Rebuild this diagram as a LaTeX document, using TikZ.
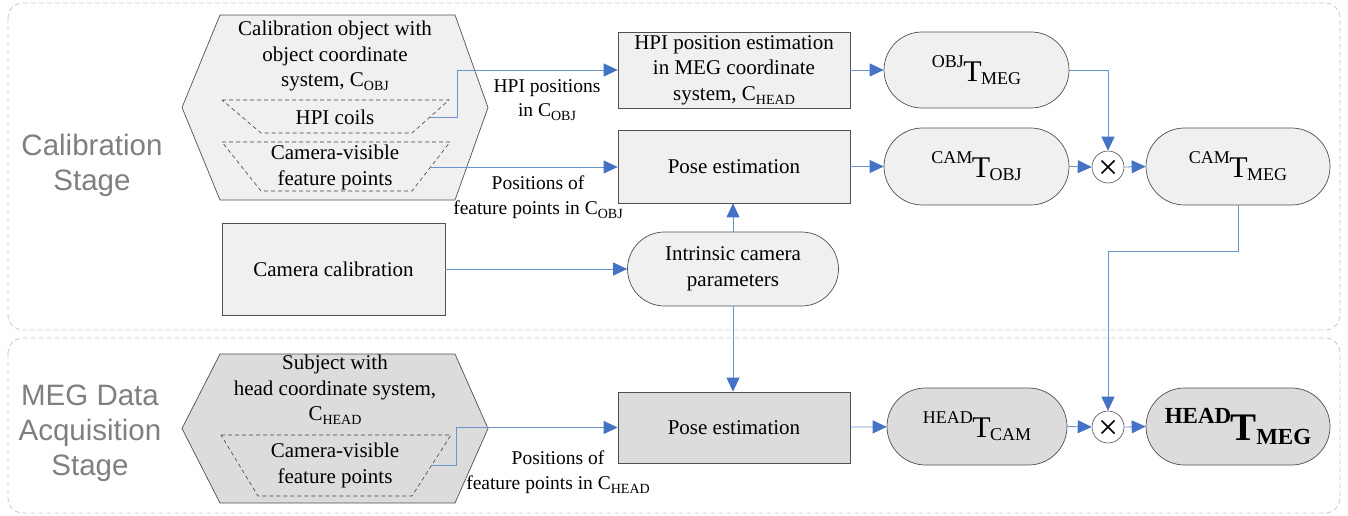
\documentclass[tikz,border=0pt]{standalone}
\usepackage{fontspec}
\setmainfont{Liberation Serif}
\newfontfamily\stagefont{Liberation Sans}
\usetikzlibrary{arrows.meta,shapes.misc,calc}
\definecolor{tipblue}{HTML}{4472C4}
\definecolor{lineblue}{HTML}{6A94CE}
\definecolor{boxline}{HTML}{505050}
\definecolor{filltop}{HTML}{F0F0F0}
\definecolor{fillbot}{HTML}{DCDCDC}
\definecolor{stagegray}{HTML}{7F7F7F}
\definecolor{framegray}{HTML}{C8C8C8}
\newcommand\mysub[1]{\raisebox{-4pt}{\fontsize{14}{14}\selectfont #1}}
\newcommand\tfm[2]{\raisebox{14pt}{\fontsize{18}{18}\selectfont #1}\kern-0.5pt{\fontsize{30}{30}\selectfont T}\kern-0.5pt\raisebox{-3pt}{\fontsize{18}{18}\selectfont #2}}
\newcommand\tfmb[2]{\textbf{\raisebox{17pt}{\fontsize{23}{23}\selectfont #1}\kern-0.5pt{\fontsize{39}{39}\selectfont T}\kern-0.5pt\raisebox{-4pt}{\fontsize{23}{23}\selectfont #2}}}
\tikzset{
  txt/.style={inner sep=0pt, align=center, font=\fontsize{21}{25.5}\selectfont},
  lbltxt/.style={inner sep=0pt, align=center, font=\fontsize{19.5}{24.5}\selectfont},
  stagetxt/.style={inner sep=0pt, align=center, text=stagegray, font=\stagefont\fontsize{29.5}{35}\selectfont},
  box/.style={draw=boxline, line width=0.7pt, fill=#1, rectangle, inner sep=0pt, align=center, font=\fontsize{21}{25.5}\selectfont},
  pill/.style={draw=boxline, line width=0.7pt, fill=#1, rounded rectangle, inner sep=0pt, align=center, font=\fontsize{21}{25.5}\selectfont},
  hexa/.style={draw=boxline, line width=0.7pt, fill=#1},
  trap/.style={draw=black!75, line width=0.6pt, dash pattern=on 4pt off 3pt},
  frame/.style={draw=framegray, line width=0.8pt, dash pattern=on 5pt off 3pt, rounded corners=15pt},
  conn/.style={draw=lineblue, line width=0.8pt, -{Triangle[length=14pt,width=13pt,color=tipblue]}},
  mult/.style={circle, draw=boxline, line width=0.6pt, fill=white, minimum size=32pt, inner sep=0pt,
    path picture={\draw[black, line width=1.7pt] ($(path picture bounding box.center)+(-6.5pt,-6.5pt)$) -- ($(path picture bounding box.center)+(6.5pt,6.5pt)$)
      ($(path picture bounding box.center)+(-6.5pt,6.5pt)$) -- ($(path picture bounding box.center)+(6.5pt,-6.5pt)$);}}
}
\begin{document}
\begin{tikzpicture}[x=1pt, y=-1pt]
\useasboundingbox (0,0) rectangle (1348,516);
% stage frames
\draw[frame] (8,3) rectangle (1340,330);
\draw[frame] (8,338) rectangle (1340,513);
\node[stagetxt] (stage1) at (92,165) {Calibration\\Stage};
\node[stagetxt] (stage2) at (90,433) {MEG Data\\Acquisition\\Stage};

% top hexagon
\draw[hexa=filltop] (182,107.5) -- (220,15) -- (455,15) -- (488,107.5) -- (455,200) -- (220,200) -- cycle;
\draw[trap] (222,100) -- (449,100) -- (412,133) -- (261,133) -- cycle;
\draw[trap] (222,142) -- (450,142) -- (412,191) -- (261,191) -- cycle;
\node[txt] (calobj) at (335,56) {Calibration object with\\object coordinate\\system, C\mysub{OBJ}};
\node[txt] (hpicoils) at (335,117) {HPI coils};
\node[txt] (feat1) at (335,167.5) {Camera-visible\\feature points};
\coordinate (c1) at (430,117);
\coordinate (c2) at (430.6,167);

% bottom hexagon
\draw[hexa=fillbot] (182,428.5) -- (220,354) -- (455,354) -- (488,428.5) -- (455,503) -- (220,503) -- cycle;
\draw[trap] (221,435) -- (451,435) -- (412,496) -- (258,496) -- cycle;
\node[txt] (subj) at (335,390) {Subject with\\head coordinate system,\\C\mysub{HEAD}};
\node[txt] (feat2) at (335,465.5) {Camera-visible\\feature points};
\coordinate (c3) at (431.8,465);

% process boxes
\node[box=filltop, minimum width=232pt, minimum height=76pt] (hpi) at (734,70) {HPI position estimation\\in MEG coordinate\\system, C\mysub{HEAD}};
\node[box=filltop, minimum width=232pt, minimum height=73pt] (pose1) at (734,166.5) {Pose estimation};
\node[box=filltop, minimum width=223pt, minimum height=92pt] (camcal) at (333.5,269) {Camera calibration};
\node[pill=filltop, minimum width=211pt, minimum height=74pt] (intr) at (733,269) {Intrinsic camera\\parameters};
\node[box=fillbot, minimum width=232pt, minimum height=71pt] (pose2) at (734,427.5) {Pose estimation};

% transforms
\node[pill=filltop, minimum width=185pt, minimum height=76pt] (objT) at (976.5,70) {\tfm{OBJ}{MEG}};
\node[pill=filltop, minimum width=185pt, minimum height=77pt] (camTobj) at (976.5,166.5) {\tfm{CAM}{OBJ}};
\node[mult] (ot1) at (1108,167) {};
\node[pill=filltop, minimum width=184pt, minimum height=77pt] (camTmeg) at (1238,166.5) {\tfm{CAM}{MEG}};
\node[pill=fillbot, minimum width=180pt, minimum height=77pt] (headTcam) at (977,426.5) {\tfm{HEAD}{CAM}};
\node[mult] (ot2) at (1108,427) {};
\node[pill=fillbot, minimum width=184pt, minimum height=77pt] (headTmeg) at (1238,426.5) {\tfmb{HEAD}{MEG}};

% connectors
\draw[conn] (c1) -- ++(27,0) |- (hpi.west);
\node[lbltxt] (lbl1) at (547,100) {HPI positions\\in C\mysub{OBJ}};
\draw[conn] (c2) -- (c2 -| pose1.west);
\node[lbltxt] (lbl2) at (538,197) {Positions of\\feature points in C\mysub{OBJ}};
\draw[conn] (c3) -- ++(25,0) |- (pose2.west);
\node[lbltxt] (lbl3) at (558,472) {Positions of\\feature points in C\mysub{HEAD}};
\draw[conn] (hpi) -- (objT);
\draw[conn] (pose1) -- (camTobj);
\draw[conn] (objT.east) -| (ot1.north);
\draw[conn] (camTobj.east) -- (ot1.west);
\draw[conn] (ot1.east) -- (camTmeg.west);
\draw[conn] (camTmeg.south) -- ++(0,46) -| (ot2.north);
\draw[conn] (camcal.east) -- (intr.west);
\draw[conn] (intr.north) -- (intr.north |- pose1.south);
\draw[conn] (intr.south) -- (intr.south |- pose2.north);
\draw[conn] (pose2) -- (headTcam);
\draw[conn] (headTcam.east) -- (ot2.west);
\draw[conn] (ot2.east) -- (headTmeg.west);
\end{tikzpicture}
\end{document}
